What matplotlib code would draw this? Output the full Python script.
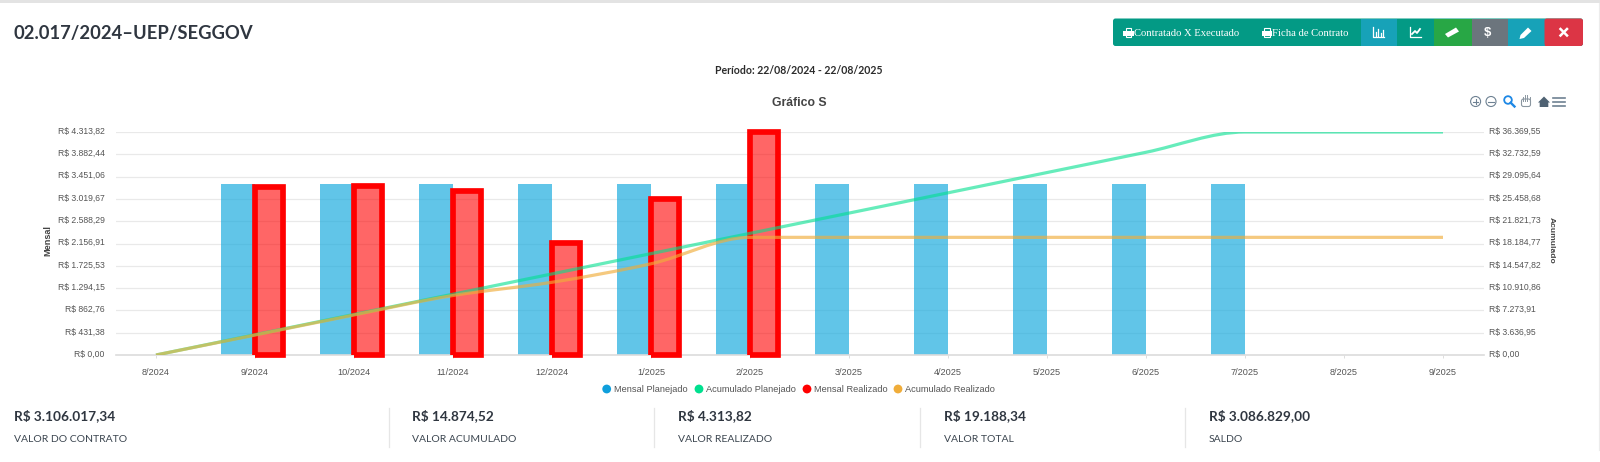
from matplotlib import pyplot as plt
from matplotlib.path import Path
from matplotlib.patches import PathPatch, Rectangle, Circle, Polygon, FancyBboxPatch
from matplotlib.transforms import ScaledTranslation
import numpy as np

meses = ['8/2024', '9/2024', '10/2024', '11/2024', '12/2024', '1/2025', '2/2025', '3/2025',
         '4/2025', '5/2025', '6/2025', '7/2025', '8/2025', '9/2025']
mensal_planejado = [0, 3306.32, 3306.32, 3306.32, 3306.32, 3306.32, 3306.32, 3306.32,
                    3306.32, 3306.32, 3306.32, 3306.32, 0, 0]
mensal_realizado = [0, 3255, 3272, 3175, 2160, 3012.52, 4313.82, 0, 0, 0, 0, 0, 0, 0]
acum_planejado = [0, 3306.32, 6612.64, 9918.96, 13225.28, 16531.6, 19837.92, 23144.24,
                  26450.56, 29756.88, 33063.2, 36369.55, 36369.55, 36369.55]
acum_realizado = [0, 3255, 6527, 9702, 11862, 14874.52, 19188.34, 19188.34,
                  19188.34, 19188.34, 19188.34, 19188.34, 19188.34, 19188.34]
ticks_mensal = ['R$ 0,00', 'R$ 431,38', 'R$ 862,76', 'R$ 1.294,15', 'R$ 1.725,53', 'R$ 2.156,91',
                'R$ 2.588,29', 'R$ 3.019,67', 'R$ 3.451,06', 'R$ 3.882,44', 'R$ 4.313,82']
ticks_acum = ['R$ 0,00', 'R$ 3.636,95', 'R$ 7.273,91', 'R$ 10.910,86', 'R$ 14.547,82', 'R$ 18.184,77',
              'R$ 21.821,73', 'R$ 25.458,68', 'R$ 29.095,64', 'R$ 32.732,59', 'R$ 36.369,55']
resumo_valores = ['R$ 3.106.017,34', 'R$ 14.874,52', 'R$ 4.313,82', 'R$ 19.188,34', 'R$ 3.086.829,00']
resumo_nomes = ['VALOR DO CONTRATO', 'VALOR ACUMULADO', 'VALOR REALIZADO', 'VALOR TOTAL', 'SALDO']
resumo_x = [14, 412, 677.5, 944, 1209]
divisorias = [389, 654, 920, 1185]
legenda = ['Mensal Planejado', 'Acumulado Planejado', 'Mensal Realizado', 'Acumulado Realizado']

AZUL, VERDE, VERMELHO, LARANJA = '#0da7dd', '#00e08f', '#ff0000', '#f0ad3a'
W, H = 1600, 462


def valor(txt):
    return float(txt.replace('R$ ', '').replace('.', '').replace(',', '.'))


def curva(xs, ys):
    # cubica monotona, igual a linha suave do grafico original
    xs, ys = np.array(xs, float), np.array(ys, float)
    d = np.diff(ys)
    m = np.zeros(len(ys))
    m[0], m[-1] = d[0], d[-1]
    for i in range(1, len(ys) - 1):
        if d[i - 1] * d[i] > 0:
            m[i] = 2 * d[i - 1] * d[i] / (d[i - 1] + d[i])
    verts = [(xs[0], ys[0])]
    codes = [Path.MOVETO]
    for i in range(len(d)):
        verts += [(xs[i] + 1 / 3, ys[i] + m[i] / 3), (xs[i + 1] - 1 / 3, ys[i + 1] - m[i + 1] / 3),
                  (xs[i + 1], ys[i + 1])]
        codes += [Path.CURVE4] * 3
    return Path(verts, codes)


plt.rcParams['font.family'] = ['Liberation Sans', 'DejaVu Sans']
fig = plt.figure(figsize=(W / 100, H / 100), dpi=100, facecolor='white')

# grafico, posicao em pixels da imagem
esq, dir_, topo, base = 115.5, 1483.5, 132, 355
ax = fig.add_axes([esq / W, 1 - base / H, (dir_ - esq) / W, (base - topo) / H])
ax2 = ax.twinx()
x = np.arange(len(meses))
ax.set_xlim((esq - 156) / 99, (dir_ - 156) / 99)
ax.set_ylim(0, valor(ticks_mensal[-1]))
ax2.set_ylim(0, valor(ticks_acum[-1]))
ax2.set_zorder(ax.get_zorder() + 1)
ax.set_facecolor('white')
ax2.patch.set_visible(False)

for a, tk, pad in ((ax, ticks_mensal, 7.7), (ax2, ticks_acum, 4)):
    a.set_yticks([valor(t) for t in tk], tk, fontsize=6.2, color='#555555')
    a.tick_params(axis='y', length=0, pad=pad)
    for s in a.spines.values():
        s.set_visible(False)
    for lab in a.get_yticklabels():
        lab.set_transform(lab.get_transform() + ScaledTranslation(0, 1.8 / 100, fig.dpi_scale_trans))
ax.set_xticks(x, meses, fontsize=6.6, color='#555555')
ax.tick_params(axis='x', length=2.5, width=0.7, color='#dddddd', pad=7)
ax2.tick_params(axis='x', length=0)
ax.grid(axis='y', color='#e9e9e9', linewidth=0.9)
ax.set_axisbelow(True)
ax.spines['bottom'].set_visible(True)
ax.spines['bottom'].set_color('#dcdcdc')
ax.spines['bottom'].set_linewidth(1.2)

ax.bar(x - 0.345, mensal_planejado, width=0.345, align='edge', color=AZUL, alpha=0.65, zorder=2)
for i, v in enumerate(mensal_realizado):
    if v == 0:
        continue
    ax.bar(x[i], v, width=0.285, align='edge', color=VERMELHO, alpha=0.6, zorder=3, linewidth=0)
    # contorno aberto: o canto de baixo a esquerda fica recortado
    ax.plot([x[i], x[i], x[i] + 0.285, x[i] + 0.285, x[i]], [0, v, v, 0, 0], color=VERMELHO,
            linewidth=4.1, solid_joinstyle='miter', solid_capstyle='butt', zorder=4, clip_on=False)

ax2.add_patch(PathPatch(curva(x, acum_planejado), fill=False, edgecolor=VERDE, alpha=0.6, linewidth=2.3,
                        capstyle='butt', zorder=5))
ax2.add_patch(PathPatch(curva(x, acum_realizado), fill=False, edgecolor=LARANJA, alpha=0.65, linewidth=2.3,
                        capstyle='butt', zorder=6))

# resto da pagina, em pixels
pg = fig.add_axes([0, 0, 1, 1], zorder=10)
pg.set_xlim(0, W)
pg.set_ylim(H, 0)
pg.axis('off')
pg.patch.set_visible(False)
pg.add_patch(Rectangle((0, 0), W, 3, color='#e3e3e3', linewidth=0))
pg.plot([1598.5, 1598.5], [3, 450], color='#ececec', linewidth=0.8)

pg.text(14, 34, '02.017/2024–UEP/SEGGOV', family='Lato', fontweight='bold', fontsize=13.25, color='#2f3640',
        va='center')
pg.text(799, 70, 'Período: 22/08/2024 - 22/08/2025', family='Lato', fontweight='bold', fontsize=7.6,
        color='#2b2b2b', ha='center', va='center')
pg.text(799, 103, 'Gráfico S', fontweight='bold', fontsize=8.8, color='#444444', ha='center', va='center')
pg.text(48, 240, 'Mensal', fontweight='bold', fontsize=6.6, color='#444444', rotation=90, ha='center', va='center')
pg.text(1551, 240, 'Acumulado', fontweight='bold', fontsize=6.1, color='#444444', rotation=270, ha='center',
        va='center')

# legenda
for cor, mx, nome in zip(('#0f9fdc', VERDE, VERMELHO, LARANJA), (606.7, 699, 807, 898), legenda):
    pg.add_patch(Circle((mx, 389), 4.4, color=cor, linewidth=0))
    pg.text(mx + 7, 389.3, nome, fontsize=6.7, color='#555555', va='center')

# resumo
for rx, v, n in zip(resumo_x, resumo_valores, resumo_nomes):
    pg.text(rx, 416, v, family='Lato', fontweight='bold', fontsize=9.8, color='#2f3640', va='center')
    pg.text(rx, 439.5, n, family='Lato', fontsize=7.5, color='#3c4650', va='center')
for dx in divisorias:
    pg.plot([dx, dx], [408, 447], color='#e6e6e6', linewidth=0.9)

# barra de botoes
y0, y1 = 18.5, 46
pg.add_patch(FancyBboxPatch((1113, y0), 470, y1 - y0, boxstyle='round,pad=0,rounding_size=2.5', color='#039a85',
                            linewidth=0))
cortes = [(1361, 1397, '#17a2b8'), (1397, 1434, '#039a85'), (1434, 1471.5, '#28a745'),
          (1471.5, 1508, '#6c757d'), (1508, 1544.5, '#17a2b8')]
for c0, c1, cor in cortes:
    pg.add_patch(Rectangle((c0, y0), c1 - c0, y1 - y0, color=cor, linewidth=0))
pg.add_patch(FancyBboxPatch((1544.5, y0), 38.5, y1 - y0, boxstyle='round,pad=0,rounding_size=2.5', color='#dc3545',
                            linewidth=0))
pg.add_patch(Rectangle((1544.5, y0), 5, y1 - y0, color='#dc3545', linewidth=0))

for tx, t in ((1133.5, 'Contratado X Executado'), (1272, 'Ficha de Contrato')):
    pg.text(tx, 33.6, t, family='Liberation Serif', fontsize=7.7, color='white', va='center')
    # impressora
    pg.add_patch(Rectangle((tx - 10.5, 31), 10.5, 4.5, color='white', linewidth=0))
    pg.add_patch(Rectangle((tx - 8, 28), 5.5, 3.5, fill=False, edgecolor='white', linewidth=0.8))
    pg.add_patch(Rectangle((tx - 8, 35), 5.5, 2.2, fill=False, edgecolor='white', linewidth=0.8))

# icones dos botoes
pg.plot([1373, 1373, 1384], [27, 37, 37], color='white', linewidth=0.9)
for bx, alt in ((1375.5, 4), (1378, 7), (1380.5, 3), (1383, 6)):
    pg.plot([bx, bx], [36, 36 - alt], color='white', linewidth=0.9)
pg.plot([1410, 1410, 1421], [27, 37, 37], color='white', linewidth=0.9)
pg.plot([1412, 1415, 1417, 1420], [34, 31, 33, 29], color='white', linewidth=1.3)
pg.add_patch(Polygon([(1445, 34), (1456, 27.5), (1459, 31.5), (1448, 37.5)], color='white', linewidth=0))
pg.text(1487.7, 33.2, '$', fontweight='bold', fontsize=9.5, color='white', ha='center', va='center')
pg.add_patch(Polygon([(1519.5, 39), (1520.5, 35), (1528, 27.5), (1531.5, 31), (1524, 38)], color='white', linewidth=0))
pg.plot([1560.5, 1567], [29, 35.5], color='white', linewidth=1.8)
pg.plot([1567, 1560.5], [29, 35.5], color='white', linewidth=1.8)

# ferramentas do grafico
cinza = '#6e8192'
for cx, mais in ((1475.6, True), (1491, False)):
    pg.add_patch(Circle((cx, 101.5), 5, fill=False, edgecolor=cinza, linewidth=0.8))
    pg.plot([cx - 2.8, cx + 2.8], [101.5, 101.5], color=cinza, linewidth=0.8)
    if mais:
        pg.plot([cx, cx], [98.7, 104.3], color=cinza, linewidth=0.8)
pg.add_patch(Circle((1508, 100), 3.8, fill=False, edgecolor='#1e88e5', linewidth=1.3))
pg.plot([1510.7, 1514.5], [102.7, 106.5], color='#1e88e5', linewidth=1.7)
pg.add_patch(FancyBboxPatch((1521.5, 99), 9, 7.5, boxstyle='round,pad=0,rounding_size=2', fill=False,
                            edgecolor='#8a96a0', linewidth=0.8))
for hx, hy in ((1523, 96.5), (1525.2, 95), (1527.4, 95), (1529.6, 96.5)):
    pg.plot([hx, hx], [hy, 100.5], color='#8a96a0', linewidth=0.7)
pg.add_patch(Polygon([(1538, 102.5), (1544, 96.5), (1550, 102.5), (1548.3, 102.5), (1548.3, 107), (1539.7, 107),
                      (1539.7, 102.5)], color='#4f6273', linewidth=0))
for my in (97.5, 101.5, 105.5):
    pg.plot([1553, 1565], [my, my], color=cinza, linewidth=1.2)

plt.savefig('out.png', dpi=100)
